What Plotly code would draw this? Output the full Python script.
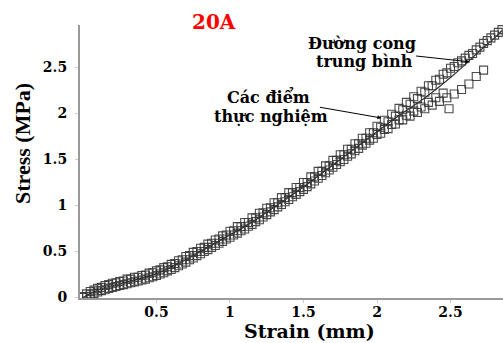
import plotly.graph_objects as go

# ---- data ----
strain_a = [0.00, 0.05, 0.10, 0.15, 0.20, 0.25, 0.30, 0.35, 0.40, 0.45,
            0.50, 0.55, 0.60, 0.65, 0.70, 0.75, 0.80, 0.85, 0.90, 0.95,
            1.00, 1.05, 1.10, 1.15, 1.20, 1.25, 1.30, 1.35, 1.40, 1.45,
            1.50, 1.55, 1.60, 1.65, 1.70, 1.75, 1.80, 1.85, 1.90, 1.95,
            2.00, 2.05, 2.10, 2.15, 2.20, 2.25, 2.30, 2.35, 2.40, 2.45,
            2.50, 2.55, 2.60, 2.65, 2.70, 2.75, 2.80, 2.85]
strain_b = [0.025, 0.075, 0.125, 0.175, 0.225, 0.275, 0.325, 0.375, 0.425, 0.475,
            0.525, 0.575, 0.625, 0.675, 0.725, 0.775, 0.825, 0.875, 0.925, 0.975,
            1.025, 1.075, 1.125, 1.175, 1.225, 1.275, 1.325, 1.375, 1.425, 1.475,
            1.525, 1.575, 1.625, 1.675, 1.725, 1.775, 1.825, 1.875, 1.925, 1.975,
            2.025, 2.075, 2.125, 2.175, 2.225, 2.275, 2.325, 2.375, 2.425, 2.475,
            2.525, 2.575, 2.625, 2.675, 2.725, 2.775, 2.825]

stress_s1 = [0.01, 0.065, 0.10, 0.13, 0.155, 0.175, 0.20, 0.22, 0.24, 0.265,
             0.29, 0.325, 0.36, 0.40, 0.445, 0.49, 0.535, 0.58, 0.625, 0.67,
             0.72, 0.77, 0.815, 0.865, 0.915, 0.97, 1.03, 1.085, 1.14, 1.195,
             1.25, 1.31, 1.37, 1.43, 1.49, 1.55, 1.61, 1.67, 1.73, 1.79,
             1.86, 1.925, 1.99, 2.055, 2.12, 2.18, 2.24, 2.30, 2.36, 2.425,
             2.49, 2.55, 2.60, 2.65, 2.72, 2.79, 2.85, 2.91]
stress_s2 = [0.04, 0.08, 0.11, 0.14, 0.16, 0.18, 0.20, 0.22, 0.245, 0.27,
             0.30, 0.335, 0.37, 0.41, 0.455, 0.50, 0.545, 0.59, 0.635, 0.68,
             0.725, 0.77, 0.815, 0.865, 0.92, 0.975, 1.03, 1.085, 1.14, 1.195,
             1.25, 1.31, 1.37, 1.43, 1.49, 1.55, 1.61, 1.67, 1.73, 1.79,
             1.85, 1.91, 1.97, 2.04, 2.10, 2.16, 2.23, 2.30, 2.37, 2.44,
             2.51, 2.57, 2.63, 2.69, 2.76, 2.82, 2.88]
stress_s3 = [0.00, 0.03, 0.06, 0.085, 0.11, 0.13, 0.15, 0.17, 0.19, 0.215,
             0.24, 0.27, 0.305, 0.345, 0.385, 0.43, 0.475, 0.52, 0.565, 0.61,
             0.655, 0.70, 0.745, 0.795, 0.845, 0.90, 0.955, 1.01, 1.065, 1.12,
             1.175, 1.235, 1.295, 1.355, 1.415, 1.475, 1.535, 1.595, 1.655, 1.71,
             1.77, 1.825, 1.88, 1.93, 1.98, 2.025, 2.07, 2.12, 2.17, 2.22]
stress_s4 = [0.01, 0.045, 0.075, 0.10, 0.12, 0.14, 0.16, 0.18, 0.20, 0.225,
             0.255, 0.29, 0.325, 0.365, 0.41, 0.455, 0.50, 0.545, 0.59, 0.635,
             0.68, 0.725, 0.775, 0.825, 0.875, 0.93, 0.985, 1.04, 1.095, 1.15,
             1.205, 1.265, 1.325, 1.385, 1.445, 1.50, 1.56, 1.62, 1.675, 1.73,
             1.785, 1.835, 1.885, 1.93, 1.97, 2.01, 2.05, 2.09, 2.13, 2.17,
             2.21, 2.26, 2.32, 2.40, 2.47]
outlier_strain = [2.49]
outlier_stress = [2.05]

mean_strain = [0.0, 0.1, 0.2, 0.3, 0.4, 0.5, 0.6, 0.7, 0.8, 0.9, 1.0, 1.1, 1.2,
               1.3, 1.4, 1.5, 1.6, 1.7, 1.8, 1.9, 2.0, 2.1, 2.2, 2.3, 2.4, 2.5,
               2.6, 2.7, 2.8, 2.85]
mean_stress = [0.0, 0.08, 0.13, 0.17, 0.21, 0.26, 0.33, 0.41, 0.50, 0.59, 0.68,
               0.77, 0.87, 0.98, 1.09, 1.20, 1.32, 1.44, 1.56, 1.68, 1.80, 1.92,
               2.03, 2.14, 2.26, 2.39, 2.53, 2.68, 2.82, 2.90]

x_ticks = [0.5, 1, 1.5, 2, 2.5]
x_labels = ["0.5", "1", "1.5", "2", "2.5"]
y_ticks = [0, 0.5, 1, 1.5, 2, 2.5]
y_labels = ["0", "0.5", "1", "1.5", "2", "2.5"]

WIDE = "DejaVu Serif"      # horizontal texts (reference is stretched sideways)
SERIF = "Liberation Serif"  # rotated axis title
marker_style = dict(symbol="square-open", size=8,
                    color="rgba(55,55,55,0.9)", line=dict(width=1.1))

fig = go.Figure()
for xs, ys in [(strain_a, stress_s1), (strain_b, stress_s2),
               (strain_a[:len(stress_s3)], stress_s3),
               (strain_b[:len(stress_s4)], stress_s4),
               (outlier_strain, outlier_stress)]:
    fig.add_trace(go.Scatter(x=xs, y=ys, mode="markers", marker=marker_style,
                             showlegend=False, hoverinfo="skip"))
fig.add_trace(go.Scatter(x=mean_strain, y=mean_stress, mode="lines",
                         line=dict(color="#333333", width=1.2, shape="spline"),
                         showlegend=False))

W, H = 503, 343
L, R, T, B = 80, 0, 25, 45
pw, ph = W - L - R, H - T - B
def px(x):
    return (x - L) / pw
def py(y):
    return (H - B - y) / ph

tickfont = dict(family=WIDE, color="black", weight="bold", size=14)

fig.update_layout(
    width=W, height=H,
    margin=dict(l=L, r=R, t=T, b=B),
    paper_bgcolor="white", plot_bgcolor="white",
    xaxis=dict(range=[-0.02, 2.857], tickvals=x_ticks,
               ticktext=["<b>%s</b>" % t for t in x_labels],
               showgrid=False, zeroline=False, showline=True,
               linecolor="#999999", linewidth=2, automargin=False,
               ticks="outside", ticklen=3, tickcolor="#cccccc",
               ticklabelstandoff=-3, tickfont=tickfont),
    yaxis=dict(range=[-0.005, 2.96], tickvals=y_ticks,
               ticktext=["<b>%s</b>" % t for t in y_labels],
               showgrid=False, zeroline=False, showline=True,
               linecolor="#999999", linewidth=2, automargin=False,
               ticks="outside", ticklen=3, tickcolor="#cccccc",
               ticklabelstandoff=5, tickfont=tickfont),
)

def label(text, x, y, size, color="black", angle=0, family=WIDE):
    fig.add_annotation(text="<b>%s</b>" % text, x=px(x), y=py(y),
                       xref="paper", yref="paper", xanchor="center",
                       yanchor="middle", showarrow=False, textangle=angle,
                       font=dict(family=family, size=size, color=color,
                                 weight="bold"))

label("20A", 214, 22, 20, color="red")
label("Strain (mm)", 309, 331, 19)
label("Stress (MPa)", 22, 144, 22, angle=-90, family=SERIF)
label("Đường cong", 362, 44, 16)
label("trung bình", 364, 62, 16)
label("Các điểm", 268, 97, 16)
label("thực nghiệm", 271, 116, 16)

# arrows pointing at the curve and the points
fig.add_annotation(x=2.63, y=2.56, xref="x", yref="y", ax=-55, ay=-6,
                   showarrow=True, arrowhead=2, arrowsize=0.8, arrowwidth=1,
                   arrowcolor="black", text="")
fig.add_annotation(x=2.03, y=1.95, xref="x", yref="y", ax=-63, ay=-11,
                   showarrow=True, arrowhead=2, arrowsize=0.8, arrowwidth=1,
                   arrowcolor="black", text="")

fig.write_html("out.html")
